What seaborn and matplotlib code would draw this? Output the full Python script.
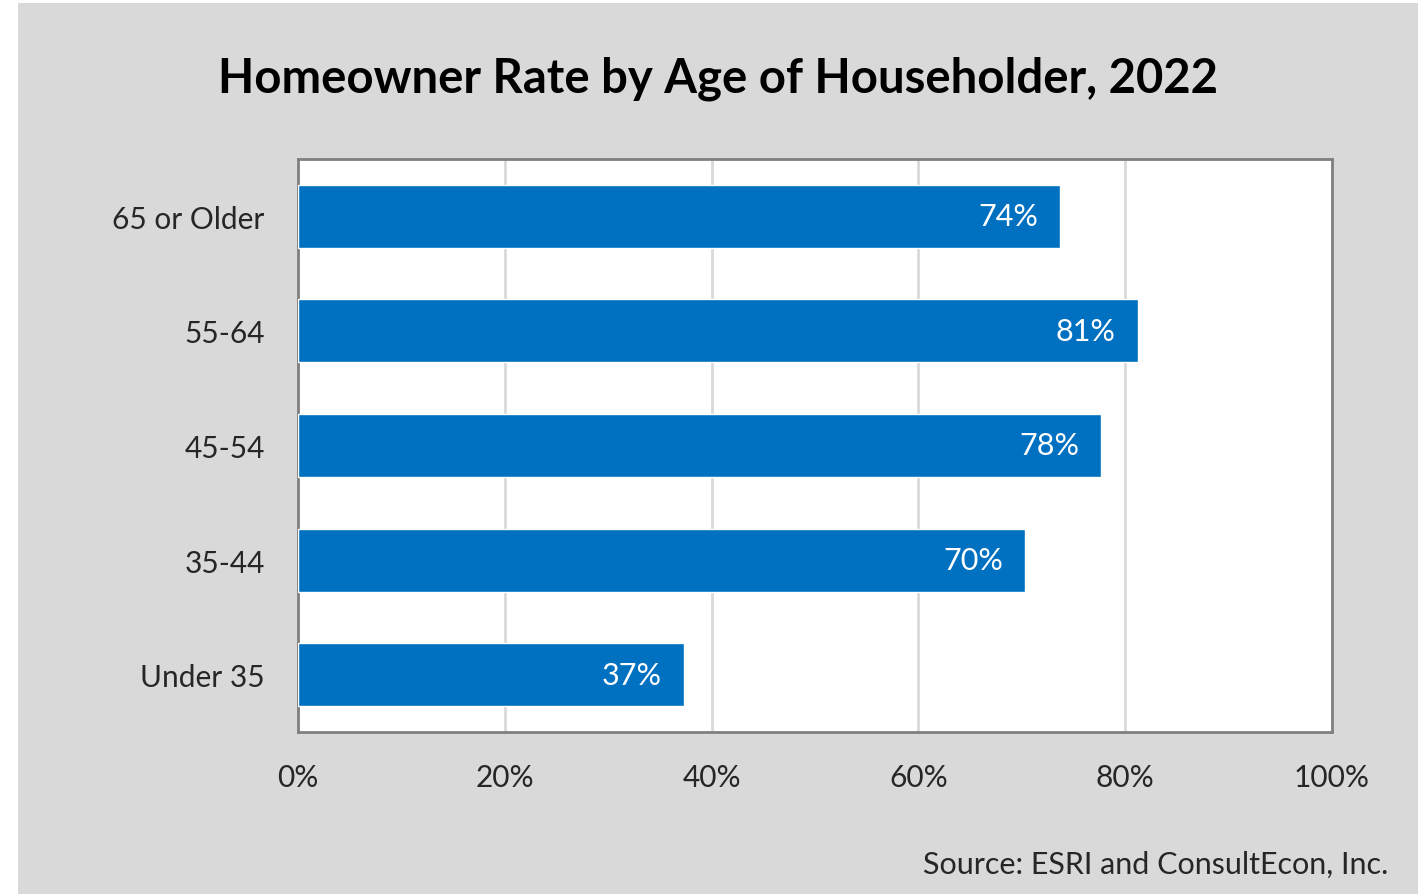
import matplotlib
matplotlib.use("Agg")
import matplotlib.pyplot as plt
import matplotlib.patches as mpatches
import seaborn as sns
import pandas as pd

categories = ["65 or Older", "55-64", "45-54", "35-44", "Under 35"]
rates = [73.7, 81.2, 77.7, 70.3, 37.3]
value_labels = ["74%", "81%", "78%", "70%", "37%"]
x_ticks = [0, 20, 40, 60, 80, 100]
x_tick_labels = ["0%", "20%", "40%", "60%", "80%", "100%"]
title = "Homeowner Rate by Age of Householder, 2022"
source = "Source: ESRI and ConsultEcon, Inc."

sns.set_theme(style="white")
plt.rcParams["font.family"] = ["Lato", "DejaVu Sans"]

df = pd.DataFrame({"Age": categories, "Rate": rates})

W, H = 1425, 895
fig = plt.figure(figsize=(W / 100, H / 100), dpi=100, facecolor="white")
bg = mpatches.Rectangle((18 / W, 0), 1400 / W, (H - 4) / H, transform=fig.transFigure,
                        facecolor="#d9d9d9", edgecolor="none", zorder=-10)
fig.patches.append(bg)

ax = fig.add_axes([298 / W, 1 - 733 / H, (1332 - 298) / W, (733 - 160) / H])
ax.set_facecolor("white")

sns.barplot(data=df, x="Rate", y="Age", order=categories, orient="h",
            color="#0070c0", saturation=1, width=0.55, ax=ax, zorder=3)

ax.set_xlim(0, 100)
ax.set_ylim(4.5, -0.5)
ax.set_xticks(x_ticks)
ax.set_xticklabels(x_tick_labels, fontsize=21.5, color="#262626")
ax.tick_params(axis="x", length=0, pad=22)
ax.tick_params(axis="y", length=0, pad=24, labelsize=21.5, labelcolor="#262626")
ax.set_xlabel("")
ax.set_ylabel("")
ax.xaxis.grid(True, color="#d9d9d9", linewidth=2, zorder=0)
ax.yaxis.grid(False)
ax.set_axisbelow(True)
for s in ax.spines.values():
    s.set_visible(True)
    s.set_color("#808080")
    s.set_linewidth(2)

for i, (v, lab) in enumerate(zip(rates, value_labels)):
    ax.annotate(lab, xy=(v, i), xytext=(-22, 0), textcoords="offset pixels",
                ha="right", va="center", color="white", fontsize=22, zorder=5)

fig.text(718 / W, 1 - 79 / H, title, ha="center", va="center", fontsize=34,
         fontweight="bold", color="black")
fig.text(1388 / W, 1 - 865 / H, source, ha="right", va="center", fontsize=22,
         color="#262626")

fig.savefig("out.png", dpi=100, facecolor=fig.get_facecolor())
